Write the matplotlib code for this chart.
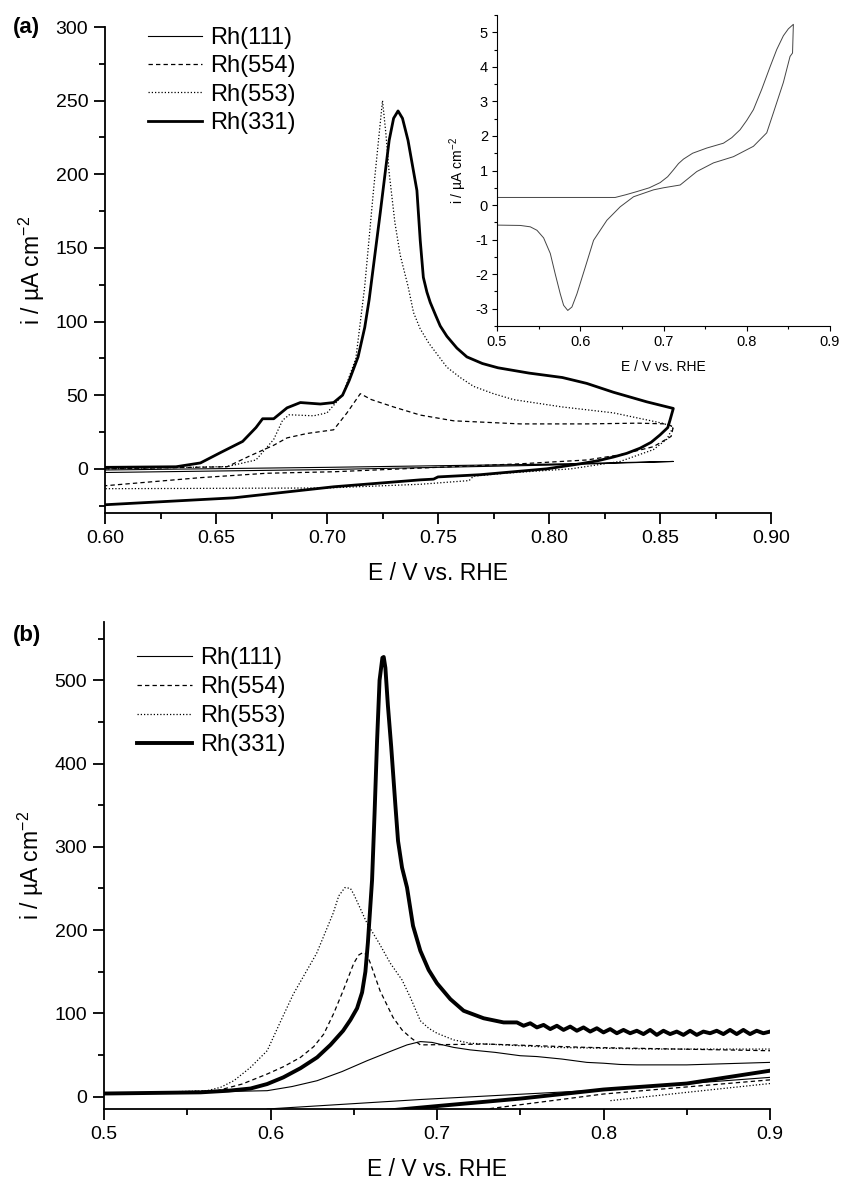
import matplotlib
matplotlib.use('Agg')
import matplotlib.pyplot as plt
from matplotlib.ticker import MultipleLocator

W, H = 841, 1182

plt.rcParams['font.family'] = ['Liberation Sans', 'DejaVu Sans']
plt.rcParams['mathtext.fontset'] = 'custom'
plt.rcParams['mathtext.rm'] = 'Liberation Sans'
plt.rcParams['mathtext.it'] = 'Liberation Sans:italic'

labels = ['Rh(111)', 'Rh(554)', 'Rh(553)', 'Rh(331)']

# ---- panel (a): CO stripping voltammograms, 0.6 - 0.856 V ----
a_e_111 = [0.600, 0.700, 0.800, 0.856, 0.800, 0.700, 0.600]
a_i_111 = [-2.5, -0.5, 2.5, 5.0, 3.2, 1.0, -0.8]

a_e_554 = [0.600, 0.655, 0.665, 0.676, 0.682, 0.691, 0.703, 0.709, 0.715, 0.720,
           0.730, 0.742, 0.757, 0.787, 0.817, 0.840, 0.853, 0.856,
           0.855, 0.847, 0.832, 0.817, 0.787, 0.742, 0.703, 0.673, 0.643, 0.600]
a_i_554 = [0.0, 1.4, 8.6, 16.0, 21.0, 24.0, 26.5, 38.0, 51.0, 47.0,
           42.0, 36.5, 32.6, 30.5, 30.5, 31.0, 30.5, 28.5,
           22.0, 15.0, 9.5, 6.0, 3.4, 0.5, -2.0, -3.0, -6.0, -11.5]

a_e_553 = [0.600, 0.655, 0.668, 0.676, 0.680, 0.683, 0.694, 0.700, 0.707, 0.713,
           0.717, 0.721, 0.725, 0.7265, 0.728, 0.7306, 0.733, 0.7365, 0.739, 0.742,
           0.746, 0.754, 0.760, 0.766, 0.775, 0.784, 0.806, 0.829, 0.851, 0.856,
           0.853, 0.847, 0.832, 0.810, 0.780, 0.766, 0.764, 0.742, 0.700, 0.600]
a_i_553 = [0.0, 1.5, 6.0, 20.0, 33.0, 36.7, 36.0, 38.0, 50.0, 75.0,
           124.0, 190.0, 250.0, 228.0, 201.0, 167.0, 145.0, 124.0, 106.0, 95.0,
           85.0, 69.0, 62.0, 56.0, 51.0, 47.0, 42.0, 38.0, 31.0, 28.5,
           20.0, 13.0, 5.0, 0.0, -3.0, -5.0, -8.0, -10.5, -13.0, -13.5]

a_e_331 = [0.600, 0.632, 0.643, 0.652, 0.662, 0.668, 0.671, 0.676, 0.682, 0.688,
           0.697, 0.703, 0.707, 0.710, 0.714, 0.717, 0.719, 0.724, 0.728, 0.730,
           0.732, 0.734, 0.7365, 0.7405, 0.742, 0.7434, 0.745, 0.7465, 0.749, 0.751,
           0.754, 0.7585, 0.763, 0.770, 0.777, 0.791,
           0.806, 0.817, 0.829, 0.844, 0.856,
           0.8545, 0.8535, 0.850, 0.846, 0.841, 0.835, 0.829, 0.822, 0.814, 0.799,
           0.769, 0.750, 0.748, 0.742, 0.703, 0.658, 0.600]
a_i_331 = [1.0, 1.4, 4.0, 11.0, 18.6, 28.0, 34.0, 34.0, 41.4, 45.0,
           44.0, 45.0, 50.0, 60.0, 76.0, 96.0, 115.0, 174.0, 223.0, 238.0,
           243.0, 238.0, 223.0, 189.0, 155.0, 130.0, 120.0, 113.0, 104.0, 97.0,
           90.0, 82.0, 76.0, 71.5, 68.6, 65.0,
           62.0, 58.0, 52.0, 45.5, 41.0,
           33.0, 28.0, 23.0, 18.0, 14.0, 10.5, 8.0, 5.5, 3.4, 0.0,
           -4.0, -5.5, -7.0, -7.5, -12.2, -19.7, -24.4]

# ---- inset: Rh(111) detail ----
in_e = [0.500, 0.642, 0.655, 0.668, 0.683, 0.696, 0.705, 0.712, 0.718, 0.724,
        0.735, 0.752, 0.772, 0.782, 0.792, 0.800, 0.808, 0.818, 0.828, 0.836,
        0.844, 0.850, 0.856,
        0.855, 0.852, 0.844, 0.832, 0.824, 0.808, 0.784, 0.760, 0.740, 0.720,
        0.700, 0.688, 0.664, 0.648, 0.632, 0.616, 0.606, 0.596, 0.590, 0.585,
        0.580, 0.576, 0.570, 0.564, 0.556, 0.548, 0.540, 0.528, 0.500]
in_i = [0.22, 0.22, 0.30, 0.39, 0.50, 0.65, 0.82, 1.02, 1.20, 1.33,
        1.50, 1.65, 1.79, 1.95, 2.18, 2.45, 2.76, 3.35, 4.00, 4.50,
        4.90, 5.10, 5.23,
        4.40, 4.30, 3.55, 2.67, 2.09, 1.70, 1.40, 1.22, 0.97, 0.58,
        0.50, 0.44, 0.24, -0.05, -0.44, -1.02, -1.80, -2.57, -2.95, -3.05,
        -2.90, -2.57, -2.00, -1.40, -0.95, -0.73, -0.63, -0.59, -0.58]

# ---- panel (b): 0.5 - 0.9 V, positive sweep and return ----
b_e_111 = [0.500, 0.598, 0.613, 0.628, 0.643, 0.658, 0.673, 0.682, 0.690, 0.697,
           0.710, 0.720, 0.735, 0.750, 0.760, 0.775, 0.790, 0.800, 0.810, 0.820,
           0.850, 0.900]
b_i_111 = [3.0, 7.0, 12.0, 19.0, 30.0, 43.0, 55.0, 62.0, 66.0, 65.0,
           59.0, 56.0, 53.0, 49.0, 48.0, 45.0, 41.0, 40.0, 38.5, 38.0,
           38.0, 41.0]
b_e_111_rev = [0.900, 0.800, 0.690, 0.598]
b_i_111_rev = [23.0, 8.0, -3.6, -15.0]

b_e_554 = [0.500, 0.568, 0.583, 0.598, 0.608, 0.618, 0.626, 0.632, 0.638, 0.6436,
           0.650, 0.653, 0.6556, 0.658, 0.660, 0.6658, 0.6736, 0.679, 0.684, 0.690,
           0.730, 0.790, 0.900]
b_i_554 = [3.0, 7.0, 15.0, 27.0, 36.0, 47.0, 60.0, 75.0, 100.0, 127.0,
           160.0, 170.0, 173.0, 170.0, 160.0, 127.0, 95.0, 80.0, 71.0, 62.0,
           63.0, 59.0, 55.0]
b_e_554_rev = [0.900, 0.800, 0.730]
b_i_554_rev = [20.0, 3.0, -15.0]

b_e_553 = [0.500, 0.562, 0.570, 0.578, 0.588, 0.598, 0.606, 0.6137, 0.620, 0.6277,
           0.6376, 0.641, 0.6447, 0.648, 0.650, 0.658, 0.665, 0.672, 0.679, 0.684,
           0.690, 0.695, 0.700, 0.710, 0.720, 0.770, 0.830, 0.900]
b_i_553 = [3.0, 7.0, 11.0, 19.0, 35.0, 55.0, 90.0, 123.0, 145.0, 172.0,
           220.0, 241.0, 251.0, 250.0, 243.0, 208.0, 185.0, 160.0, 140.0, 119.0,
           91.0, 82.0, 76.0, 68.0, 64.0, 59.0, 57.0, 57.0]
b_e_553_rev = [0.900, 0.850, 0.804]
b_i_553_rev = [15.6, 5.0, -5.0]

b_e_331 = [0.500, 0.558, 0.575, 0.588, 0.598, 0.6077, 0.618, 0.628, 0.636, 0.6436,
           0.648, 0.652, 0.655, 0.657, 0.6585, 0.660, 0.661, 0.6625, 0.664, 0.6655,
           0.6672, 0.668, 0.669, 0.6705, 0.6725, 0.675, 0.6766, 0.679, 0.682, 0.6856,
           0.690, 0.695, 0.700, 0.708, 0.716, 0.728, 0.740,
           0.748, 0.752, 0.756, 0.760, 0.764, 0.768, 0.772, 0.776, 0.780,
           0.784, 0.788, 0.792, 0.796, 0.800, 0.804, 0.808, 0.812, 0.816, 0.820,
           0.824, 0.828, 0.832, 0.836, 0.840, 0.844, 0.848, 0.852, 0.856, 0.860,
           0.864, 0.868, 0.872, 0.876, 0.880, 0.884, 0.888, 0.892, 0.896, 0.900]
b_i_331 = [3.6, 5.0, 7.0, 9.6, 15.0, 23.0, 34.0, 47.0, 62.0, 79.0,
           92.0, 106.0, 125.0, 150.0, 185.0, 230.0, 260.0, 340.0, 427.0, 500.0,
           527.0, 528.0, 515.0, 470.0, 420.0, 350.0, 307.0, 275.0, 251.0, 205.0,
           175.0, 152.0, 136.0, 117.0, 103.0, 94.0, 89.0,
           89.0, 85.0, 88.0, 83.0, 86.0, 81.0, 85.0, 80.0, 84.0,
           79.0, 83.0, 78.0, 82.0, 77.0, 81.0, 76.0, 80.0, 76.0, 79.0,
           75.0, 80.0, 74.0, 79.0, 75.0, 78.0, 74.0, 79.0, 74.0, 78.0,
           76.0, 79.0, 75.0, 80.0, 75.0, 80.0, 75.0, 79.0, 76.0, 78.0]
b_e_331_rev = [0.900, 0.850, 0.800, 0.750, 0.700, 0.670]
b_i_331_rev = [31.0, 15.6, 8.4, -2.5, -11.5, -17.0]


def px_axes(fig, left, top, right, bottom):
    """Add axes from pixel edges of the 841x1182 figure."""
    return fig.add_axes([left / W, 1 - bottom / H, (right - left) / W, (bottom - top) / H])


def style_axes(ax, maj, minr, width, size, pad):
    ax.spines['top'].set_visible(False)
    ax.spines['right'].set_visible(False)
    for s in ('left', 'bottom'):
        ax.spines[s].set_linewidth(width)
    ax.tick_params(which='major', direction='out', length=maj, width=width,
                   labelsize=size, pad=pad)
    ax.tick_params(which='minor', direction='out', length=minr, width=width)


def hyphen_fmt(fmt):
    return lambda v, p: format(v, fmt)


ylab = 'i / µA cm$^{-2}$'
xlab = 'E / V vs. RHE'
dash = (0, (3.5, 2.5))
dot = (0, (1, 1.6))

fig = plt.figure(figsize=(W / 100, H / 100), dpi=100)

# panel (a)
ax1 = px_axes(fig, 105, 27, 771, 513)
ax1.plot(a_e_111, a_i_111, color='black', lw=0.8, ls='-', label=labels[0])
ax1.plot(a_e_554, a_i_554, color='black', lw=0.9, ls=dash, label=labels[1])
ax1.plot(a_e_553, a_i_553, color='black', lw=0.9, ls=dot, label=labels[2])
ax1.plot(a_e_331, a_i_331, color='black', lw=2.0, ls='-', label=labels[3])
ax1.set_xlim(0.6, 0.9)
ax1.set_ylim(-30, 300)
ax1.xaxis.set_major_locator(MultipleLocator(0.05))
ax1.xaxis.set_minor_locator(MultipleLocator(0.025))
ax1.yaxis.set_major_locator(MultipleLocator(50))
ax1.yaxis.set_minor_locator(MultipleLocator(25))
ax1.xaxis.set_major_formatter(hyphen_fmt('.2f'))
ax1.yaxis.set_major_formatter(hyphen_fmt('g'))
style_axes(ax1, 8, 4.5, 1.3, 14, 4)
ax1.set_xlabel(xlab, fontsize=16.5, labelpad=11)
ax1.set_ylabel(ylab, fontsize=16.5, labelpad=6)
ax1.legend(loc='upper left', bbox_to_anchor=(148 / W, 1 - 27 / H),
           bbox_transform=fig.transFigure, frameon=False, fontsize=17,
           handlelength=2.3, handletextpad=0.34, labelspacing=0.27,
           borderpad=0, borderaxespad=0)

# inset
ax_in = px_axes(fig, 497, 15, 830, 326)
ax_in.plot(in_e, in_i, color='#444444', lw=0.7)
ax_in.set_xlim(0.5, 0.9)
ax_in.set_ylim(-3.5, 5.5)
ax_in.xaxis.set_major_locator(MultipleLocator(0.1))
ax_in.xaxis.set_minor_locator(MultipleLocator(0.05))
ax_in.yaxis.set_major_locator(MultipleLocator(1))
ax_in.yaxis.set_minor_locator(MultipleLocator(0.5))
ax_in.xaxis.set_major_formatter(hyphen_fmt('g'))
ax_in.yaxis.set_major_formatter(hyphen_fmt('g'))
style_axes(ax_in, 3.5, 2, 0.8, 10.5, 3)
ax_in.set_xlabel(xlab, fontsize=10, labelpad=8)
ax_in.set_ylabel(ylab, fontsize=10, labelpad=4)

# panel (b)
ax2 = px_axes(fig, 104, 622, 770, 1109)
ax2.plot(b_e_111, b_i_111, color='black', lw=0.8, ls='-', label=labels[0])
ax2.plot(b_e_111_rev, b_i_111_rev, color='black', lw=0.8, ls='-')
ax2.plot(b_e_554, b_i_554, color='black', lw=0.9, ls=dash, label=labels[1])
ax2.plot(b_e_554_rev, b_i_554_rev, color='black', lw=0.9, ls=dash)
ax2.plot(b_e_553, b_i_553, color='black', lw=0.9, ls=dot, label=labels[2])
ax2.plot(b_e_553_rev, b_i_553_rev, color='black', lw=0.9, ls=dot)
ax2.plot(b_e_331, b_i_331, color='black', lw=2.8, ls='-', label=labels[3])
ax2.plot(b_e_331_rev, b_i_331_rev, color='black', lw=2.8, ls='-')
ax2.set_xlim(0.5, 0.9)
ax2.set_ylim(-15, 570)
ax2.xaxis.set_major_locator(MultipleLocator(0.1))
ax2.xaxis.set_minor_locator(MultipleLocator(0.05))
ax2.yaxis.set_major_locator(MultipleLocator(100))
ax2.yaxis.set_minor_locator(MultipleLocator(50))
ax2.xaxis.set_major_formatter(hyphen_fmt('g'))
ax2.yaxis.set_major_formatter(hyphen_fmt('g'))
style_axes(ax2, 8, 4.5, 1.3, 14, 4)
ax2.set_xlabel(xlab, fontsize=16.5, labelpad=11)
ax2.set_ylabel(ylab, fontsize=16.5, labelpad=6)
ax2.legend(loc='upper left', bbox_to_anchor=(137 / W, 1 - 647 / H),
           bbox_transform=fig.transFigure, frameon=False, fontsize=17,
           handlelength=2.35, handletextpad=0.34, labelspacing=0.3,
           borderpad=0, borderaxespad=0)

fig.text(13 / W, 1 - 28 / H, '(a)', fontsize=16, fontweight='bold', va='center')
fig.text(13 / W, 1 - 636 / H, '(b)', fontsize=16, fontweight='bold', va='center')

fig.savefig('out.png', dpi=100)
